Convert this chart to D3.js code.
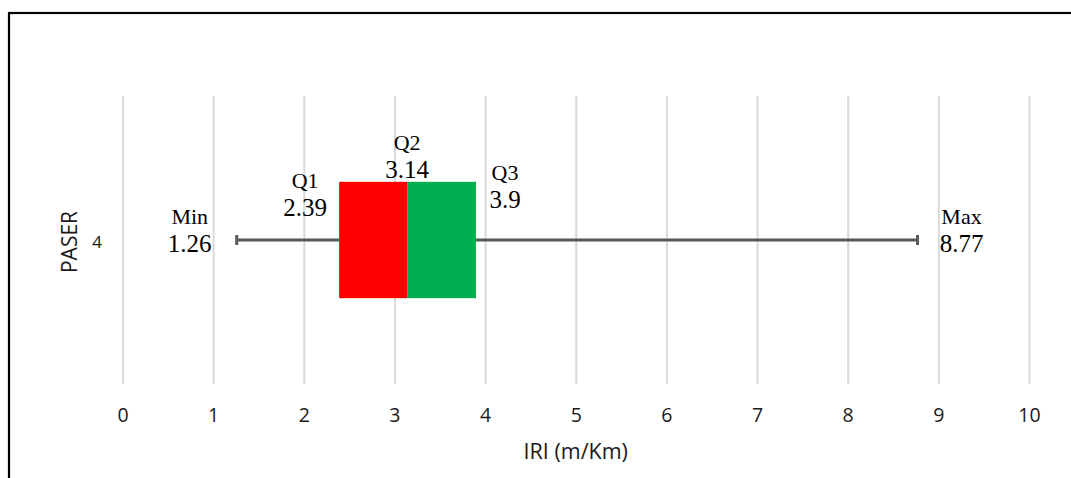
<!DOCTYPE html>
<html>
<head>
<meta charset="utf-8">
<script src="https://cdn.jsdelivr.net/npm/d3@7"></script>
<style>
  html, body { margin: 0; padding: 0; background: #fff; }
  svg { display: block; }
</style>
</head>
<body>
<svg id="chart" width="1071" height="478"></svg>
<script>
// Box-plot summary of IRI for PASER rating 4
const categories = ["4"];
const statNames = ["Min", "Q1", "Q2", "Q3", "Max"];
const statValues = [1.26, 2.39, 3.14, 3.9, 8.77];
const xTicks = [0, 1, 2, 3, 4, 5, 6, 7, 8, 9, 10];
const xTitle = "IRI (m/Km)";
const yTitle = "PASER";

// label placement: horizontal shift from the value, and baseline of the value line
const labelLayout = [
  { dx: -47, dy: 12 },
  { dx: -34, dy: -24 },
  { dx: 0, dy: -62 },
  { dx: 29, dy: -32 },
  { dx: 44, dy: 12 }
];

const stat = Object.fromEntries(statNames.map((n, i) => [n, statValues[i]]));

const svg = d3.select("#chart");
const plot = { left: 122.5, right: 1029, top: 96, bottom: 384 };
const sans = "'Open Sans', sans-serif";
const ink = "#1a1a1a";

// outer frame
svg.append("rect")
  .attr("x", 9).attr("y", 13)
  .attr("width", 1200).attr("height", 600)
  .attr("fill", "none").attr("stroke", "#000").attr("stroke-width", 2.2);

const x = d3.scaleLinear().domain([0, 10]).range([plot.left, plot.right]);
const y = d3.scaleBand().domain(categories).range([plot.top, plot.bottom]);

// gridlines + tick labels
const xAxis = svg.append("g")
  .attr("transform", `translate(0,${plot.bottom})`)
  .call(d3.axisBottom(x).tickValues(xTicks).tickFormat(d3.format("d"))
    .tickSize(-(plot.bottom - plot.top)).tickPadding(0));
xAxis.select(".domain").remove();
xAxis.selectAll(".tick line").attr("stroke", "#d9d9d9").attr("stroke-width", 2);
xAxis.selectAll(".tick text")
  .attr("y", 37.5).attr("dy", null)
  .attr("font-family", sans)
  .attr("font-size", 19.5).attr("fill", ink);

// category axis label
const yAxis = svg.append("g")
  .attr("transform", `translate(${plot.left},0)`)
  .call(d3.axisLeft(y).tickSize(0).tickPadding(20.5));
yAxis.select(".domain").remove();
yAxis.selectAll(".tick text")
  .attr("dy", "0.45em")
  .attr("font-family", sans)
  .attr("font-size", 17).attr("fill", ink);

// axis titles
svg.append("text")
  .attr("x", (plot.left + plot.right) / 2).attr("y", 459)
  .attr("text-anchor", "middle")
  .attr("font-family", sans).attr("font-size", 21.5)
  .attr("fill", ink).text(xTitle);
svg.append("text")
  .attr("transform", `translate(77,242) rotate(-90)`)
  .attr("text-anchor", "middle")
  .attr("font-family", sans).attr("font-size", 21)
  .attr("fill", ink).text(yTitle);

const cy = y("4") + y.bandwidth() / 2;
const boxH = y.bandwidth() * 0.404;

// whiskers
const whisk = svg.append("g").attr("stroke", "#595959").attr("stroke-width", 3);
whisk.append("line")
  .attr("x1", x(stat.Min)).attr("x2", x(stat.Q1)).attr("y1", cy).attr("y2", cy);
whisk.append("line")
  .attr("x1", x(stat.Q3)).attr("x2", x(stat.Max)).attr("y1", cy).attr("y2", cy);
[stat.Min, stat.Max].forEach(v => {
  whisk.append("line")
    .attr("x1", x(v)).attr("x2", x(v))
    .attr("y1", cy - 5).attr("y2", cy + 5);
});

// box halves
svg.append("rect")
  .attr("x", x(stat.Q1)).attr("y", cy - boxH / 2)
  .attr("width", x(stat.Q2) - x(stat.Q1)).attr("height", boxH)
  .attr("fill", "#ff0000");
svg.append("rect")
  .attr("x", x(stat.Q2)).attr("y", cy - boxH / 2)
  .attr("width", x(stat.Q3) - x(stat.Q2)).attr("height", boxH)
  .attr("fill", "#00b050");

// value labels
const labels = svg.append("g")
  .attr("font-family", "'Liberation Serif', 'Times New Roman', serif")
  .attr("fill", "#000").attr("text-anchor", "middle");
statNames.forEach((name, i) => {
  const lx = x(statValues[i]) + labelLayout[i].dx;
  const ly = cy + labelLayout[i].dy;
  labels.append("text").attr("x", lx).attr("y", ly - 28.5)
    .attr("font-size", 22).text(name);
  labels.append("text").attr("x", lx).attr("y", ly)
    .attr("font-size", 25).text(String(statValues[i]));
});
</script>
</body>
</html>
